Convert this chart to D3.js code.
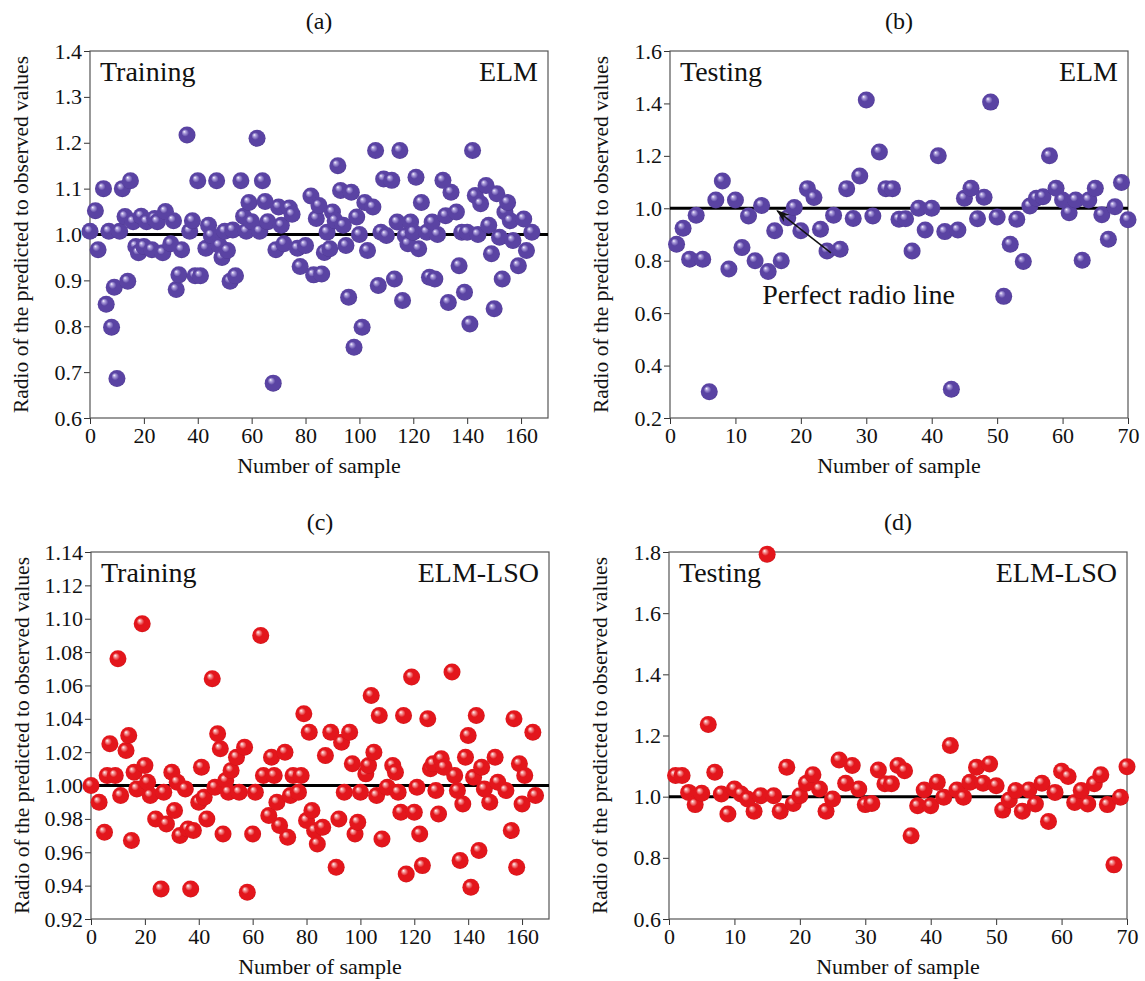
<!DOCTYPE html>
<html>
<head>
<meta charset="utf-8">
<script src="https://cdn.jsdelivr.net/npm/d3@7"></script>
<style>
  body { margin: 0; background: #fff; }
  svg { display: block; }
  svg text { font-family: 'Liberation Serif', 'Times New Roman', Tinos, 'DejaVu Serif', serif; }
</style>
</head>
<body>
<svg id="chart" width="1145" height="981"></svg>
<script>
// ---- data (sample number, predicted/observed ratio) ----
const trainElmX = [0,2,3,5,6,7,8,9,10,11,12,13,14,15,16,17,18,19,20,21,23,24,25,27,28,30,31,32,33,34,36,37,38,39,40,41,43,44,45,47,48,49,50,51,52,53,54,56,57,58,59,60,62,63,64,65,66,68,69,70,71,72,74,75,77,78,80,82,83,84,85,86,87,88,89,90,91,92,93,94,95,96,97,98,99,100,101,102,103,105,106,107,108,109,110,112,113,114,115,116,117,118,119,120,121,122,123,125,126,127,128,129,131,132,133,134,136,137,138,139,140,141,142,143,144,145,147,148,149,150,151,152,153,154,155,156,157,159,161,162,164];
const trainElmY = [1.007,1.052,0.967,1.10,0.848,1.007,0.798,0.885,0.686,1.007,1.10,1.039,0.898,1.117,1.028,0.974,0.96,1.04,0.974,1.028,0.967,1.035,1.028,0.96,1.05,0.98,1.03,0.88,0.912,0.967,1.217,1.007,1.03,0.91,1.117,0.91,0.97,1.02,0.998,1.117,0.976,0.95,1.007,0.965,0.898,1.01,0.91,1.117,1.04,1.007,1.07,1.028,1.21,1.007,1.117,1.072,1.028,0.676,0.967,1.06,1.02,0.98,1.058,1.044,0.97,0.93,0.976,1.084,0.912,1.035,1.063,0.914,0.961,1.005,0.969,1.049,1.03,1.15,1.096,1.02,0.976,0.863,1.092,0.754,1.038,1.0,0.798,1.07,0.965,1.06,1.183,0.889,1.005,1.121,0.998,1.118,0.903,1.027,1.183,0.856,0.998,0.98,1.027,1.005,1.125,0.969,1.07,1.005,0.907,1.027,0.903,1.0,1.118,1.041,0.852,1.092,1.049,0.932,1.005,0.874,1.005,0.805,1.183,1.085,1.0,1.067,1.107,1.02,0.958,0.838,1.089,0.994,0.903,1.049,1.07,1.03,0.987,0.932,1.034,0.965,1.005];

const testElmX = [1,2,3,4,5,6,7,8,9,10,11,12,13,14,15,16,17,18,19,20,21,22,23,24,25,26,27,28,29,30,31,32,33,34,35,36,37,38,39,40,41,42,43,44,45,46,47,48,49,50,51,52,53,54,55,56,57,58,59,60,61,62,63,64,65,66,67,68,69,70];
const testElmY = [0.863,0.924,0.806,0.973,0.806,0.30,1.032,1.104,0.768,1.032,0.85,0.971,0.80,1.011,0.759,0.914,0.80,0.964,1.003,0.914,1.075,1.041,0.92,0.837,0.973,0.844,1.075,0.961,1.123,1.413,0.971,1.215,1.075,1.075,0.958,0.96,0.837,1.0,0.917,1.0,1.2,0.911,0.31,0.917,1.038,1.076,0.96,1.042,1.405,0.967,0.664,0.863,0.958,0.797,1.009,1.038,1.044,1.2,1.076,1.032,0.983,1.032,0.802,1.032,1.076,0.975,0.882,1.006,1.098,0.956];

const trainLsoX = [0,3,5,6,7,9,10,11,13,14,15,16,17,19,20,21,22,24,26,27,28,30,31,32,33,35,36,37,38,40,41,42,43,45,46,47,48,49,50,51,52,54,55,57,58,60,61,63,64,66,67,68,69,70,72,73,74,75,77,78,79,80,81,82,83,84,86,87,89,91,92,93,94,96,97,98,99,100,102,103,104,105,106,107,108,110,112,113,114,115,116,117,119,120,121,122,123,125,126,127,128,129,130,131,134,135,136,137,138,139,140,141,142,143,144,145,146,148,150,151,154,156,157,158,159,160,161,164,165];
const trainLsoY = [1.0,0.99,0.972,1.006,1.025,1.006,1.076,0.994,1.021,1.030,0.967,1.008,0.998,1.097,1.012,1.002,0.994,0.980,0.938,0.996,0.977,1.008,0.985,1.002,0.970,0.998,0.974,0.938,0.973,0.99,1.011,0.993,0.980,1.064,0.999,1.031,1.022,0.971,1.003,0.996,1.009,1.017,0.996,1.023,0.936,0.971,0.996,1.090,1.006,0.982,1.017,1.006,0.99,0.976,1.02,0.969,0.994,1.006,0.996,1.006,1.043,0.979,1.032,0.985,0.973,0.965,0.975,1.018,1.032,0.951,0.980,1.026,0.996,1.032,1.013,0.971,0.978,0.996,1.007,1.012,1.054,1.02,0.994,1.042,0.968,0.999,1.012,1.008,0.996,0.984,1.042,0.947,1.065,0.984,0.999,0.971,0.952,1.040,1.01,1.013,0.997,0.983,1.016,1.011,1.068,1.006,0.997,0.955,0.989,1.017,1.03,0.939,1.005,1.042,0.961,1.011,0.998,0.99,1.017,1.002,0.997,0.973,1.04,0.951,1.013,0.989,1.006,1.032,0.994];

const testLsoX = [1,2,3,4,5,6,7,8,9,10,11,12,13,14,15,16,17,18,19,20,21,22,23,24,25,26,27,28,29,30,31,32,33,34,35,36,37,38,39,40,41,42,43,44,45,46,47,48,49,50,51,52,53,54,55,56,57,58,59,60,61,62,63,64,65,66,67,68,69,70];
const testLsoY = [1.069,1.069,1.014,0.974,1.011,1.236,1.08,1.009,0.943,1.025,1.009,0.992,0.952,1.003,1.793,1.003,0.952,1.096,0.978,1.003,1.044,1.072,1.025,0.952,0.992,1.12,1.044,1.102,1.025,0.974,0.978,1.087,1.042,1.042,1.102,1.085,0.872,0.97,1.022,0.97,1.047,0.998,1.167,1.022,0.998,1.047,1.096,1.044,1.107,1.036,0.956,0.989,1.02,0.952,1.022,0.976,1.044,0.919,1.014,1.083,1.066,0.981,1.02,0.976,1.042,1.072,0.974,0.777,0.998,1.098];

const trainTicksX = [0,20,40,60,80,100,120,140,160];
const testTicksX = [0,10,20,30,40,50,60,70];
const ticksA = [0.6,0.7,0.8,0.9,1.0,1.1,1.2,1.3,1.4];
const ticksB = [0.2,0.4,0.6,0.8,1.0,1.2,1.4,1.6];
const ticksC = [0.92,0.94,0.96,0.98,1.00,1.02,1.04,1.06,1.08,1.10,1.12,1.14];
const ticksD = [0.6,0.8,1.0,1.2,1.4,1.6,1.8];

const svg = d3.select('#chart');

// sphere gradients
const defs = svg.append('defs');
function sphereGrad(id, light, mid, dark) {
    const g = defs.append('radialGradient').attr('id', id)
        .attr('cx', '0.5').attr('cy', '0.5').attr('r', '0.55')
        .attr('fx', '0.33').attr('fy', '0.3');
    g.append('stop').attr('offset', '0%').attr('stop-color', '#ffffff');
    g.append('stop').attr('offset', '14%').attr('stop-color', light);
    g.append('stop').attr('offset', '40%').attr('stop-color', mid);
    g.append('stop').attr('offset', '85%').attr('stop-color', mid);
    g.append('stop').attr('offset', '100%').attr('stop-color', dark);
}
sphereGrad('purple', '#b3a6e0', '#5a43a3', '#3e2a7c');
sphereGrad('red', '#f6a3a3', '#e3161c', '#b40c10');

defs.append('marker').attr('id', 'arrow')
    .attr('viewBox', '0 0 10 10').attr('refX', 9).attr('refY', 5)
    .attr('markerWidth', 9).attr('markerHeight', 9).attr('orient', 'auto')
    .append('path').attr('d', 'M0,1.5 L10,5 L0,8.5 L3,5 Z').attr('fill', '#111');

const panels = [
    { xs: trainElmX, ys: trainElmY, left: 90, top: 51, xMax: 170, xt: trainTicksX, yd: [0.6, 1.4], yt: ticksA, fmt: '.1f',
      fill: 'url(#purple)', title: '(a)', tag: 'Training', model: 'ELM' },
    { xs: testElmX, ys: testElmY, left: 670, top: 51, xMax: 70, xt: testTicksX, yd: [0.2, 1.6], yt: ticksB, fmt: '.1f',
      fill: 'url(#purple)', title: '(b)', tag: 'Testing', model: 'ELM', note: true },
    { xs: trainLsoX, ys: trainLsoY, left: 91, top: 552, xMax: 170, xt: trainTicksX, yd: [0.92, 1.14], yt: ticksC, fmt: '.2f',
      fill: 'url(#red)', title: '(c)', tag: 'Training', model: 'ELM-LSO' },
    { xs: testLsoX, ys: testLsoY, left: 669, top: 552, xMax: 70, xt: testTicksX, yd: [0.6, 1.8], yt: ticksD, fmt: '.1f',
      fill: 'url(#red)', title: '(d)', tag: 'Testing', model: 'ELM-LSO' }
];
const W = 458, H = 367;

panels.forEach(p => {
    const g = svg.append('g').attr('transform', `translate(${p.left},${p.top})`);
    const x = d3.scaleLinear().domain([0, p.xMax]).range([0, W]);
    const y = d3.scaleLinear().domain(p.yd).range([H, 0]);

    // axes
    const ya = g.append('g').call(d3.axisLeft(y).tickValues(p.yt).tickFormat(d3.format(p.fmt)).tickSize(6).tickPadding(2));
    const xa = g.append('g').attr('transform', `translate(0,${H})`)
        .call(d3.axisBottom(x).tickValues(p.xt).tickSize(6).tickPadding(3));
    [ya, xa].forEach(a => {
        a.attr('font-family', null);
        a.select('.domain').remove();
        a.selectAll('line').attr('stroke', '#333');
        a.selectAll('text').attr('font-size', 22).attr('fill', '#111');
    });

    // frame
    g.append('rect').attr('width', W).attr('height', H)
        .attr('fill', 'none').attr('stroke', '#555').attr('stroke-width', 1.2);

    // perfect ratio line
    g.append('line')
        .attr('x1', x(0)).attr('x2', x(p.xMax))
        .attr('y1', y(1)).attr('y2', y(1))
        .attr('stroke', '#000').attr('stroke-width', 3);

    // spheres
    g.append('g').selectAll('circle')
        .data(p.xs.map((d, i) => [d, p.ys[i]]))
        .join('circle')
        .attr('cx', d => x(d[0]))
        .attr('cy', d => y(d[1]))
        .attr('r', 8.5)
        .attr('fill', p.fill);

    // labels
    g.append('text').text(p.tag).attr('x', 10).attr('y', 30)
        .attr('font-size', 28).attr('fill', '#111');
    g.append('text').text(p.model).attr('x', W - 10).attr('y', 30).attr('text-anchor', 'end')
        .attr('font-size', 28).attr('fill', '#111');
    g.append('text').text(p.title).attr('x', W / 2).attr('y', -22).attr('text-anchor', 'middle')
        .attr('font-size', 24).attr('fill', '#111');
    g.append('text').text('Number of sample').attr('x', W / 2).attr('y', H + 55).attr('text-anchor', 'middle')
        .attr('font-size', 22).attr('fill', '#111');
    g.append('text').text('Radio of the predicted to observed values')
        .attr('transform', `translate(-62,${H / 2}) rotate(-90)`).attr('text-anchor', 'middle')
        .attr('font-size', 21.5).attr('fill', '#111');

    if (p.note) {
        g.append('line')
            .attr('x1', x(24.6)).attr('y1', y(0.83))
            .attr('x2', x(16.4)).attr('y2', y(0.99))
            .attr('stroke', '#111').attr('stroke-width', 1.5)
            .attr('marker-end', 'url(#arrow)');
        g.append('text').text('Perfect radio line').attr('x', x(14.1)).attr('y', y(0.635))
            .attr('font-size', 28).attr('fill', '#111');
    }
});
</script>
</body>
</html>
